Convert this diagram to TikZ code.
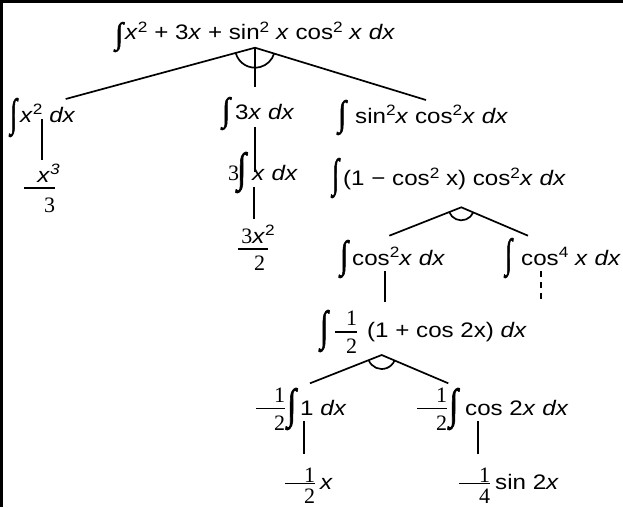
\documentclass[tikz,border=0pt]{standalone}
\usepackage{fontspec}
\usepackage{graphicx}
\setmainfont{Liberation Sans}[FakeStretch=1.15]
\newfontfamily\serf{Liberation Serif}
\newfontfamily\intf{Liberation Serif}[FakeBold=1.8]
\newcommand\X{\textit{x}}
\newcommand\dx{\textit{dx}}
\newcommand\sps[1]{\raisebox{7.5pt}{\fontsize{15}{15}\selectfont #1}}
% integral: advance, glyph width, total height, depth
\newcommand\ig[4]{\makebox[#1][l]{\raisebox{-#4}{\resizebox{#2}{#3}{\intf\raisebox{\depth}{∫}}}}}
% fraction: width, num, den, bar bottom, num baseline, den baseline (below)
\newcommand\fr[6]{\rlap{\rule[#4]{#1}{1.5pt}}\makebox[#1][r]{\raisebox{#5}{#2}}\llap{\raisebox{-#6}{#3}}}
\newcommand\sd[1]{{\serf\fontsize{22}{22}\selectfont #1}}
\begin{document}
\begin{tikzpicture}[x=1pt,y=-1pt,
  every node/.style={inner sep=0pt, anchor=base west, font=\fontsize{21}{25}\selectfont},
  ln/.style={line width=1.7pt},
  dl/.style={line width=1.7pt, dash pattern=on 6pt off 5pt}]
\useasboundingbox (0,0) rectangle (623,507);
\draw[line width=3pt] (0,1.5) -- (623,1.5);
\draw[line width=2.5pt] (1.25,0) -- (1.25,507);
% nodes
\node (A) at (115,39.5) {\ig{10pt}{8pt}{30pt}{12.5pt}\X\sps{2} + 3\X{} + sin\sps{2} \X{} cos\sps{2} \X{} \dx};
\node (B) at (10,122) {\ig{10pt}{7pt}{39pt}{15pt}\X\sps{2} \dx};
\node (C) at (222,119) {\ig{13pt}{8pt}{33pt}{11pt}3\X{} \dx};
\node (D) at (338,123) {\ig{17pt}{8pt}{35pt}{12pt}sin\sps{2}\X{} cos\sps{2}\X{} \dx};
\node (E) at (24,194) {\fr{31pt}{\X\rlap{\sps{\textit{3}}}\kern5pt}{\sd{3}}{5.4pt}{12pt}{18pt}};
\node (F) at (228,180) {\makebox[9pt][l]{\sd{3}}\ig{15pt}{9pt}{41pt}{13pt}\X{} \dx};
\node (G) at (238,255) {\fr{30pt}{\sd{3}\X\rlap{\sps{2}}\kern3pt}{\sd{2}\kern3pt}{5.4pt}{12pt}{15pt}};
\node (H) at (332,185.5) {\ig{11pt}{7pt}{40pt}{12.5pt}(1 − cos\sps{2} x) cos\sps{2}\X{} \dx};
\node (I) at (340,265) {\ig{12pt}{8pt}{38pt}{13pt}cos\sps{2}\X{} \dx};
\node (J) at (505,265) {\ig{16pt}{7pt}{40pt}{13pt}cos\sps{4} \X{} \dx};
\node (K) at (320,337) {\ig{15pt}{8pt}{42pt}{15pt}\fr{22pt}{\sd{1}}{\sd{2}}{4.4pt}{12pt}{16pt}\hspace{10pt}(1 + cos 2x) \dx};
\node (L) at (256,415) {\fr{29pt}{\sd{1}}{\sd{2}}{6pt}{13pt}{15pt}\kern2pt\ig{13pt}{9pt}{42pt}{15pt}1 \dx};
\node (M) at (417,415) {\fr{30pt}{\sd{1}}{\sd{2}}{6pt}{13pt}{15pt}\kern2pt\ig{16pt}{9pt}{42pt}{15pt}cos 2\X{} \dx};
\node (N) at (285,489) {\fr{30pt}{\sd{1}}{\sd{2}}{5pt}{7pt}{14.5pt}\kern5pt\X};
\node (O) at (459,489) {\fr{31pt}{\sd{1}}{\sd{4}}{5pt}{7pt}{14.5pt}\kern5pt sin 2\X};
% connector points
\coordinate (p1) at (255,47.7);
\coordinate (Bt) at (65.7,99);
\coordinate (Ct) at (255,86.7);
\coordinate (Dt) at (426,100);
\coordinate (Bb) at (41.7,119);
\coordinate (Et) at (41.7,160);
\coordinate (Cb) at (255,127);
\coordinate (Ft) at (255,172);
\coordinate (Fb) at (254.3,187);
\coordinate (Gt) at (254.3,219);
\coordinate (p2) at (461.3,207.3);
\coordinate (It) at (389.3,235.7);
\coordinate (Jt) at (528,235.7);
\coordinate (Ib) at (385,271);
\coordinate (Kt) at (385,302);
\coordinate (Jb) at (540.7,271);
\coordinate (Jd) at (540.7,302);
\coordinate (p3) at (381.7,355);
\coordinate (Lt) at (310,383.3);
\coordinate (Mt) at (448.3,383.3);
\coordinate (Lb) at (304,421);
\coordinate (Nt) at (304,454);
\coordinate (Mb) at (478,421);
\coordinate (Ot) at (478,454);
% connectors
\draw[ln] (Bt) -- (p1) -- (Dt);
\draw[ln] (p1) -- (Ct);
\draw[ln] (p1) ++(164.8:20) arc[start angle=164.8, end angle=17, radius=20];
\draw[ln] (Bb) -- (Et);
\draw[ln] (Cb) -- (Ft);
\draw[ln] (Fb) -- (Gt);
\draw[ln] (It) -- (p2) -- (Jt);
\draw[ln] (p2) ++(158.5:13) arc[start angle=158.5, end angle=23.1, radius=13];
\draw[ln] (Ib) -- (Kt);
\draw[dl] (Jb) -- (Jd);
\draw[ln] (Lt) -- (p3) -- (Mt);
\draw[ln] (p3) ++(158.5:14) arc[start angle=158.5, end angle=23, radius=14];
\draw[ln] (Lb) -- (Nt);
\draw[ln] (Mb) -- (Ot);
\end{tikzpicture}
\end{document}
